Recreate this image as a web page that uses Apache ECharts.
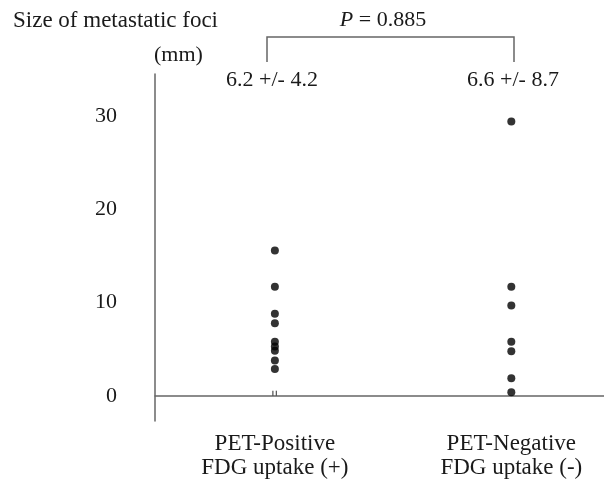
<!DOCTYPE html>
<html>
<head>
<meta charset="utf-8">
<script src="https://cdn.jsdelivr.net/npm/echarts@6/dist/echarts.min.js"></script>
<style>
html,body{margin:0;padding:0;background:#fff;}
#chart{width:604px;height:480px;}
</style>
</head>
<body>
<div id="chart"></div>
<script>
// ---- data ----
const categories = ['PET-Positive\nFDG uptake (+)', 'PET-Negative\nFDG uptake (-)'];
const positiveSizes = [15.6, 11.7, 8.8, 7.8, 5.8, 5.3, 4.85, 3.8, 2.9];
const positiveTiny = [0.3, 0.3];
const negativeSizes = [29.4, 11.7, 9.7, 5.8, 4.8, 1.9, 0.4];
const yTicks = [0, 10, 20, 30];
const groupStats = ['6.2 +/- 4.2', '6.6 +/- 8.7'];
const pValue = '0.885';
const yTitle = ['Size of metastatic foci', '(mm)'];

const FONT = "'Liberation Serif', 'Times New Roman', serif";
const AXIS_COLOR = '#666';
const TEXT_COLOR = '#1a1a1a';

const chart = echarts.init(document.getElementById('chart'), null, {renderer: 'canvas'});

const option = {
  backgroundColor: '#fff',
  animation: false,
  grid: {left: 155, right: 0, top: 74, bottom: 59, outerBoundsMode: 'none', containLabel: false},
  xAxis: {
    type: 'value',
    min: -0.507,
    max: 1.392,
    splitLine: {show: false},
    axisTick: {show: false},
    axisLine: {show: true, onZero: true, lineStyle: {color: AXIS_COLOR, width: 1.5}},
    axisLabel: {
      customValues: [0, 1],
      margin: 11,
      fontFamily: FONT, fontSize: 23, lineHeight: 24, color: TEXT_COLOR,
      formatter: v => categories[Math.round(v)] || ''
    }
  },
  yAxis: {
    type: 'value',
    min: -2.68,
    max: 34.5,
    splitLine: {show: false},
    axisTick: {show: false},
    axisLine: {show: true, onZero: false, lineStyle: {color: AXIS_COLOR, width: 1.5}},
    axisLabel: {
      customValues: yTicks,
      margin: 38,
      fontFamily: FONT, fontSize: 22, color: TEXT_COLOR
    }
  },
  series: [
    {
      type: 'scatter',
      symbol: 'circle',
      symbolSize: 8,
      itemStyle: {color: '#000'},
      data: positiveSizes.map(v => [0, v])
    },
    {
      type: 'scatter',
      symbol: 'rect',
      symbolSize: [1.3, 5],
      itemStyle: {color: '#333'},
      data: positiveTiny.map((v, i) => ({value: [0, v], symbolOffset: [i === 0 ? -2 : 1.5, 0]}))
    },
    {
      type: 'scatter',
      symbol: 'circle',
      symbolSize: 8,
      itemStyle: {color: '#000'},
      data: negativeSizes.map(v => [1, v])
    }
  ],
  graphic: [
    {type: 'text', left: 13, top: 9, style: {text: yTitle[0], font: '23px ' + FONT, fill: TEXT_COLOR}},
    {type: 'text', left: 154, top: 44, style: {text: yTitle[1], font: '22px ' + FONT, fill: TEXT_COLOR}},
    {type: 'polyline', shape: {points: [[267, 62], [267, 37], [514, 37], [514, 62]]},
      style: {stroke: AXIS_COLOR, lineWidth: 1.5, fill: null}},
    {type: 'text', x: 383, y: 20, style: {
      text: '{i|P} = ' + pValue, align: 'center', verticalAlign: 'middle',
      rich: {i: {fontStyle: 'italic', fontFamily: FONT, fontSize: 22, fill: TEXT_COLOR}},
      font: '22px ' + FONT, fill: TEXT_COLOR}},
    {type: 'text', x: 272, y: 80, style: {text: groupStats[0], align: 'center', verticalAlign: 'middle', font: '22px ' + FONT, fill: TEXT_COLOR}},
    {type: 'text', x: 513, y: 80, style: {text: groupStats[1], align: 'center', verticalAlign: 'middle', font: '22px ' + FONT, fill: TEXT_COLOR}}
  ]
};
chart.setOption(option);
</script>
</body>
</html>
